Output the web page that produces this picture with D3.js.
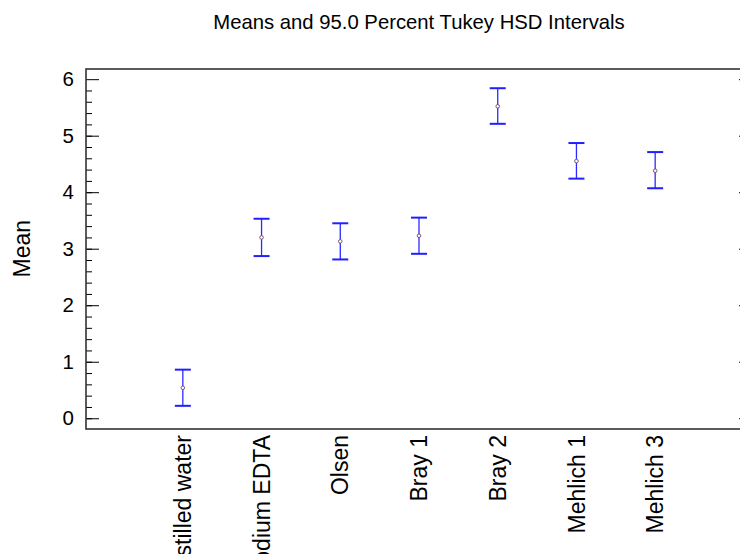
<!DOCTYPE html>
<html>
<head>
<meta charset="utf-8">
<script src="https://cdn.jsdelivr.net/npm/d3@7"></script>
<style>
  body { margin: 0; background: #fff; }
  svg { display: block; font-family: "Liberation Sans", Arial, sans-serif; }
</style>
</head>
<body>
<div id="chart"></div>
<script>
// group names, group means and the Tukey HSD interval ends
const categories = ["Distilled water", "Sodium EDTA", "Olsen", "Bray 1", "Bray 2", "Mehlich 1", "Mehlich 3"];
const means = [0.54, 3.20, 3.13, 3.23, 5.52, 4.55, 4.38];
const lower = [0.22, 2.87, 2.81, 2.91, 5.21, 4.24, 4.07];
const upper = [0.86, 3.53, 3.45, 3.55, 5.84, 4.87, 4.71];
const yTicks = [0, 1, 2, 3, 4, 5, 6];
const yMinorTicks = d3.range(0, 30).map(i => i / 5); // every 0.2

const data = categories.map((c, i) => ({ cat: c, mean: means[i], lo: lower[i], hi: upper[i] }));

const width = 740,
      height = 554,
      margin = ({ top: 69, right: -12, bottom: 125, left: 86 }); // right frame sits just past the window

let svg = d3.select("#chart")
    .append("svg")
    .attr("width", width)
    .attr("height", height);

let x = d3.scalePoint()
    .domain(categories)
    .range([margin.left, width - margin.right])
    .padding(1.23);

let y = d3.scaleLinear()
    .domain([-0.19, 6.18])
    .range([height - margin.bottom, margin.top]);

// left axis: major + minor ticks pointing inward
svg.append("g")
    .attr("transform", `translate(${margin.left},0)`)
    .call(d3.axisLeft(y).tickValues(yMinorTicks).tickSize(-6).tickFormat(""))
    .call(g => g.select(".domain").remove());

svg.append("g")
    .attr("transform", `translate(${margin.left},0)`)
    .call(d3.axisLeft(y).tickValues(yTicks).tickSize(-13).tickPadding(12).tickFormat(d3.format("d")))
    .call(g => g.select(".domain").remove())
    .call(g => g.selectAll("text").style("font-size", "20.5px").style("fill", "#000")
        .style("font-family", "'Liberation Sans', Arial, sans-serif"));

// right axis (mostly outside the window)
svg.append("g")
    .attr("transform", `translate(${width - margin.right},0)`)
    .call(d3.axisRight(y).tickValues(yTicks).tickSize(-13).tickFormat(""))
    .call(g => g.select(".domain").remove());

// frame
svg.append("rect")
    .attr("x", margin.left)
    .attr("y", margin.top)
    .attr("width", width - margin.right - margin.left)
    .attr("height", height - margin.bottom - margin.top)
    .attr("fill", "none")
    .attr("stroke", "#333")
    .attr("stroke-width", 1.6);

// category labels, rotated
svg.append("g")
    .selectAll("text")
    .data(categories)
    .join("text")
    .attr("transform", d => `translate(${x(d)},${height - margin.bottom + 6}) rotate(-90)`)
    .attr("dy", "0.35em")
    .attr("text-anchor", "end")
    .style("font-size", "23px")
    .text(d => d);

// error bars
let bar = svg.selectAll(".bar")
    .data(data)
    .join("g")
    .attr("class", "bar");

bar.append("line")
    .attr("x1", d => x(d.cat))
    .attr("x2", d => x(d.cat))
    .attr("y1", d => y(d.lo))
    .attr("y2", d => y(d.hi))
    .attr("stroke", "#2a2aff")
    .attr("stroke-width", 1.3);

bar.append("line")
    .attr("x1", d => x(d.cat) - 8)
    .attr("x2", d => x(d.cat) + 8)
    .attr("y1", d => y(d.hi))
    .attr("y2", d => y(d.hi))
    .attr("stroke", "#2020ff")
    .attr("stroke-width", 2);

bar.append("line")
    .attr("x1", d => x(d.cat) - 8)
    .attr("x2", d => x(d.cat) + 8)
    .attr("y1", d => y(d.lo))
    .attr("y2", d => y(d.lo))
    .attr("stroke", "#2020ff")
    .attr("stroke-width", 2);

bar.append("circle")
    .attr("cx", d => x(d.cat))
    .attr("cy", d => y(d.mean))
    .attr("r", 1.8)
    .attr("fill", "#fff")
    .attr("stroke", "#80506a")
    .attr("stroke-width", 1);

// y label
svg.append("text")
    .attr("transform", `translate(22,${y(3)}) rotate(-90)`)
    .attr("dy", "0.35em")
    .attr("text-anchor", "middle")
    .style("font-size", "23px")
    .text("Mean");

// title
svg.append("text")
    .attr("x", (margin.left + width - margin.right) / 2)
    .attr("y", 29)
    .attr("text-anchor", "middle")
    .style("font-size", "20.3px")
    .text("Means and 95.0 Percent Tukey HSD Intervals");
</script>
</body>
</html>
